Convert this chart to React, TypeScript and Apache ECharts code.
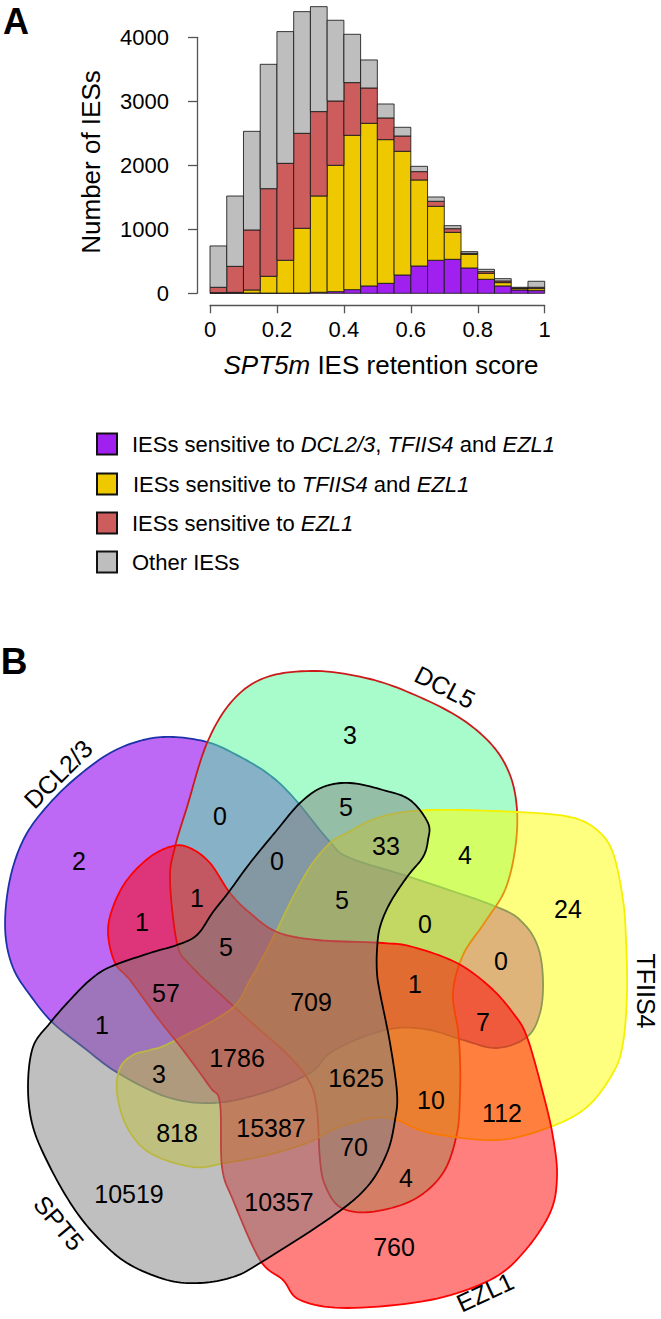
import React, { useEffect, useRef } from 'react';
import * as echarts from 'echarts';

const FONT = '"Liberation Sans", Arial, Helvetica, sans-serif';

// ---------- Panel A data (stacked histogram, bin width 0.05) ----------
const binEdges = [0, 0.05, 0.1, 0.15, 0.2, 0.25, 0.3, 0.35, 0.4, 0.45, 0.5, 0.55, 0.6, 0.65, 0.7, 0.75, 0.8, 0.85, 0.9, 0.95, 1];
const purpleCounts = [5, 5, 5, 3, 3, 5, 16, 26, 57, 115, 156, 286, 427, 516, 531, 396, 219, 115, 52, 42];
const yellowCounts = [5, 10, 47, 263, 513, 1011, 1505, 1974, 2412, 2541, 2245, 1933, 1344, 843, 422, 213, 94, 52, 21, 31];
const redCounts = [84, 406, 938, 1369, 1515, 1484, 1318, 1005, 823, 552, 339, 239, 130, 79, 57, 16, 26, 26, 10, 21];
const grayCounts = [646, 1099, 1541, 1943, 2058, 1901, 1640, 1261, 755, 438, 218, 136, 83, 67, 47, 26, 36, 36, 11, 94];

const legendLabels = [
  'IESs sensitive to {i|DCL2/3}, {i|TFIIS4} and {i|EZL1}',
  'IESs sensitive to {i|TFIIS4} and {i|EZL1}',
  'IESs sensitive to {i|EZL1}',
  'Other IESs',
];
const barColors = ['#A020F0', '#EEC900', '#CD5C5C', '#BEBEBE'];

// ---------- Panel B data (5-set Venn) ----------
const vennSetNames = ['DCL2/3', 'DCL5', 'TFIIS4', 'EZL1', 'SPT5'];
const vennCounts = [2, 0, 3, 5, 33, 4, 24, 0, 5, 0, 0, 1, 1, 5, 1, 7, 57, 709, 1, 1786, 1625, 3, 10, 112, 818, 15387, 70, 4, 10519, 10357, 760];

// layout of the Venn region labels (pixel positions)
const vennCountPos = [
  [79, 861], [220, 816], [350, 735], [346, 807], [386, 846], [465, 855], [568, 909], [277, 861], [342, 900],
  [425, 924], [501, 961], [197, 898], [142, 922], [226, 947], [415, 984], [483, 1022], [166, 993], [311, 1002],
  [102, 1025], [237, 1058], [356, 1078], [159, 1074], [431, 1100], [502, 1113], [177, 1133], [271, 1128],
  [354, 1147], [406, 1178], [129, 1194], [279, 1202], [394, 1247],
];
const vennSetLabelPos = [
  { x: 58, y: 774, rot: 45 },
  { x: 445, y: 687, rot: -27 },
  { x: 646, y: 991, rot: -90 },
  { x: 485, y: 1292, rot: 25 },
  { x: 59, y: 1223, rot: -50 },
];
const vennOutlines = [
  [[173, 737], [207, 742], [233, 753], [267, 773], [293, 797], [330, 842], [350, 858], [413, 878], [497, 907], [523, 923], [538, 947], [543, 980], [540, 1013], [527, 1037], [497, 1048], [463, 1040], [430, 1030], [397, 1028], [363, 1037], [330, 1053], [310, 1073], [263, 1093], [213, 1103], [167, 1097], [118, 1073], [83, 1047], [52, 1022], [30, 995], [14, 970], [6, 940], [6, 905], [13, 867], [27, 833], [50, 803], [77, 777], [110, 753], [143, 740]],
  [[207, 743], [233, 700], [267, 677], [317, 671], [370, 679], [415, 695], [460, 718], [492, 745], [510, 775], [517, 810], [515, 850], [505, 890], [485, 922], [463, 955], [453, 993], [458, 1030], [460, 1060], [460, 1093], [457, 1133], [443, 1173], [413, 1200], [370, 1212], [340, 1207], [325, 1185], [320, 1160], [317, 1110], [310, 1083], [290, 1057], [260, 1030], [230, 1003], [190, 965], [177, 943], [170, 880], [175, 847], [187, 807]],
  [[117, 1093], [127, 1127], [150, 1153], [193, 1167], [225, 1163], [267, 1155], [307, 1143], [337, 1128], [373, 1118], [397, 1120], [430, 1133], [497, 1140], [550, 1127], [587, 1107], [613, 1073], [623, 1043], [627, 993], [626, 940], [623, 900], [613, 853], [597, 830], [570, 817], [517, 812], [430, 810], [380, 817], [347, 833], [330, 843], [310, 867], [290, 903], [277, 930], [263, 957], [250, 980], [230, 1010], [170, 1043], [150, 1050], [133, 1055], [120, 1068]],
  [[173, 846], [190, 848], [210, 863], [230, 893], [250, 913], [277, 932], [317, 940], [383, 943], [413, 947], [457, 963], [490, 987], [513, 1013], [527, 1037], [543, 1093], [553, 1137], [557, 1177], [550, 1213], [523, 1253], [490, 1280], [430, 1300], [347, 1308], [300, 1300], [283, 1280], [260, 1260], [233, 1200], [222, 1167], [220, 1103], [210, 1087], [183, 1050], [157, 1017], [130, 980], [115, 963], [108, 933], [113, 907], [127, 880], [150, 857]],
  [[110, 967], [150, 953], [177, 945], [197, 935], [213, 912], [228, 893], [250, 863], [277, 830], [300, 803], [323, 787], [350, 783], [383, 790], [410, 800], [428, 823], [428, 840], [423, 857], [407, 877], [390, 903], [380, 927], [377, 950], [377, 973], [380, 993], [390, 1043], [397, 1093], [395, 1120], [387, 1153], [367, 1187], [330, 1218], [260, 1263], [233, 1277], [200, 1283], [167, 1280], [127, 1263], [97, 1237], [73, 1207], [50, 1167], [33, 1127], [28, 1087], [33, 1047], [50, 1023], [70, 1000], [90, 980]],
];
const vennFills = ['rgba(145,5,238,0.6)', 'rgba(81,249,151,0.5)', 'rgba(255,255,0,0.5)', 'rgba(255,0,0,0.5)', 'rgba(128,128,128,0.5)'];
const vennStrokes = ['#1E32A8', '#CC1A1A', '#F5F000', '#FF0000', '#000000'];

// closed uniform Catmull-Rom densification for smooth outlines
function smoothClosed(pts: number[][], steps = 10): number[][] {
  const n = pts.length;
  const out: number[][] = [];
  for (let i = 0; i < n; i++) {
    const p0 = pts[(i - 1 + n) % n];
    const p1 = pts[i];
    const p2 = pts[(i + 1) % n];
    const p3 = pts[(i + 2) % n];
    for (let s = 0; s < steps; s++) {
      const t = s / steps;
      const t2 = t * t;
      const t3 = t2 * t;
      const f = (a: number, b: number, c: number, d: number) =>
        0.5 * (2 * b + (-a + c) * t + (2 * a - 5 * b + 4 * c - d) * t2 + (-a + 3 * b - 3 * c + d) * t3);
      out.push([f(p0[0], p1[0], p2[0], p3[0]), f(p0[1], p1[1], p2[1], p3[1])]);
    }
  }
  return out;
}

function buildSeries() {
  const layers = [purpleCounts, yellowCounts, redCounts, grayCounts];
  const base = binEdges.slice(0, -1).map(() => 0);
  return layers.map((vals, li) => {
    const data = vals.map((v, i) => {
      const b = base[i];
      base[i] = b + v;
      return [binEdges[i], binEdges[i + 1], b, b + v];
    });
    const color = barColors[li];
    return {
      type: 'custom',
      clip: false,
      encode: { x: [0, 1], y: [2, 3] },
      data,
      renderItem: (_p: any, api: any) => {
        const tl = api.coord([api.value(0), api.value(3)]);
        const br = api.coord([api.value(1), api.value(2)]);
        return {
          type: 'rect',
          shape: { x: tl[0], y: tl[1], width: br[0] - tl[0], height: br[1] - tl[1] },
          style: { fill: color, stroke: 'rgba(25,25,25,0.85)', lineWidth: 1 },
        };
      },
    };
  });
}

function buildGraphics() {
  const g: any[] = [];
  const txt = (x: number, y: number, text: string, size: number, extra: any = {}, rotDeg = 0) => ({
    type: 'text',
    x,
    y,
    rotation: (rotDeg * Math.PI) / 180,
    style: {
      text,
      fontSize: size,
      fontFamily: FONT,
      fill: '#000',
      textAlign: 'center',
      textVerticalAlign: 'middle',
      ...extra,
    },
  });
  const rich = (size: number) => ({
    i: { fontStyle: 'italic', fontSize: size, fontFamily: FONT, fill: '#000' },
  });

  // panel letters
  g.push(txt(16, 21, 'A', 36, { fontWeight: 'bold' }));
  g.push(txt(14, 661, 'B', 37, { fontWeight: 'bold' }));

  // axis titles
  g.push(txt(91, 162, 'Number of IESs', 26, {}, 90));
  g.push(txt(381, 365, '{i|SPT5m} IES retention score', 26, { rich: rich(26) }));

  // legend
  const rowY = [444, 484, 523, 562];
  legendLabels.forEach((lab, i) => {
    g.push({
      type: 'rect',
      shape: { x: 97, y: rowY[i] - 10.5, width: 20, height: 21 },
      style: { fill: barColors[i], stroke: '#111', lineWidth: 2 },
    });
    g.push(txt(i === 1 ? 133 : 132, rowY[i], lab, 22, { textAlign: 'left', rich: rich(22) }));
  });

  // venn shapes
  vennOutlines.forEach((pts, i) => {
    g.push({
      type: 'polygon',
      shape: { points: smoothClosed(pts) },
      style: { fill: vennFills[i], stroke: vennStrokes[i], lineWidth: 1.8, lineJoin: 'round' },
    });
  });
  // region counts
  vennCounts.forEach((c, i) => {
    const p = vennCountPos[i];
    g.push(txt(p[0], p[1], String(c), 25));
  });
  // set labels
  vennSetNames.forEach((n, i) => {
    const p = vennSetLabelPos[i];
    g.push(txt(p.x, p.y, n, 25, {}, p.rot));
  });
  return g;
}

export default function App() {
  const ref = useRef<HTMLDivElement>(null);
  useEffect(() => {
    if (!ref.current) return;
    const chart = echarts.init(ref.current, undefined, { renderer: 'svg' });
    const axisLine = { show: true, onZero: false, lineStyle: { color: '#555', width: 1.3 } };
    const axisTick = { show: true, length: 9, lineStyle: { color: '#555', width: 1.3 } };
    chart.setOption({
      animation: false,
      backgroundColor: '#fff',
      grid: { left: 210, right: 116.3, top: 37.3, bottom: 1025.7, containLabel: false },
      xAxis: {
        type: 'value',
        min: 0,
        max: 1,
        interval: 0.2,
        offset: 12,
        axisLine,
        axisTick: { ...axisTick, length: 8 },
        axisLabel: { color: '#000', fontSize: 22, fontFamily: FONT, margin: 13, showMinLabel: true, showMaxLabel: true, formatter: (v: number) => String(v) },
        splitLine: { show: false },
      },
      yAxis: {
        type: 'value',
        min: 0,
        max: 4000,
        interval: 1000,
        offset: 13,
        axisLine,
        axisTick,
        axisLabel: { color: '#000', fontSize: 22, fontFamily: FONT, margin: 28, formatter: (v: number) => String(v) },
        splitLine: { show: false },
      },
      series: buildSeries(),
      graphic: buildGraphics(),
    });
    return () => chart.dispose();
  }, []);
  return <div ref={ref} style={{ position: 'absolute', left: 0, top: 0, width: 661, height: 1319 }} />;
}
